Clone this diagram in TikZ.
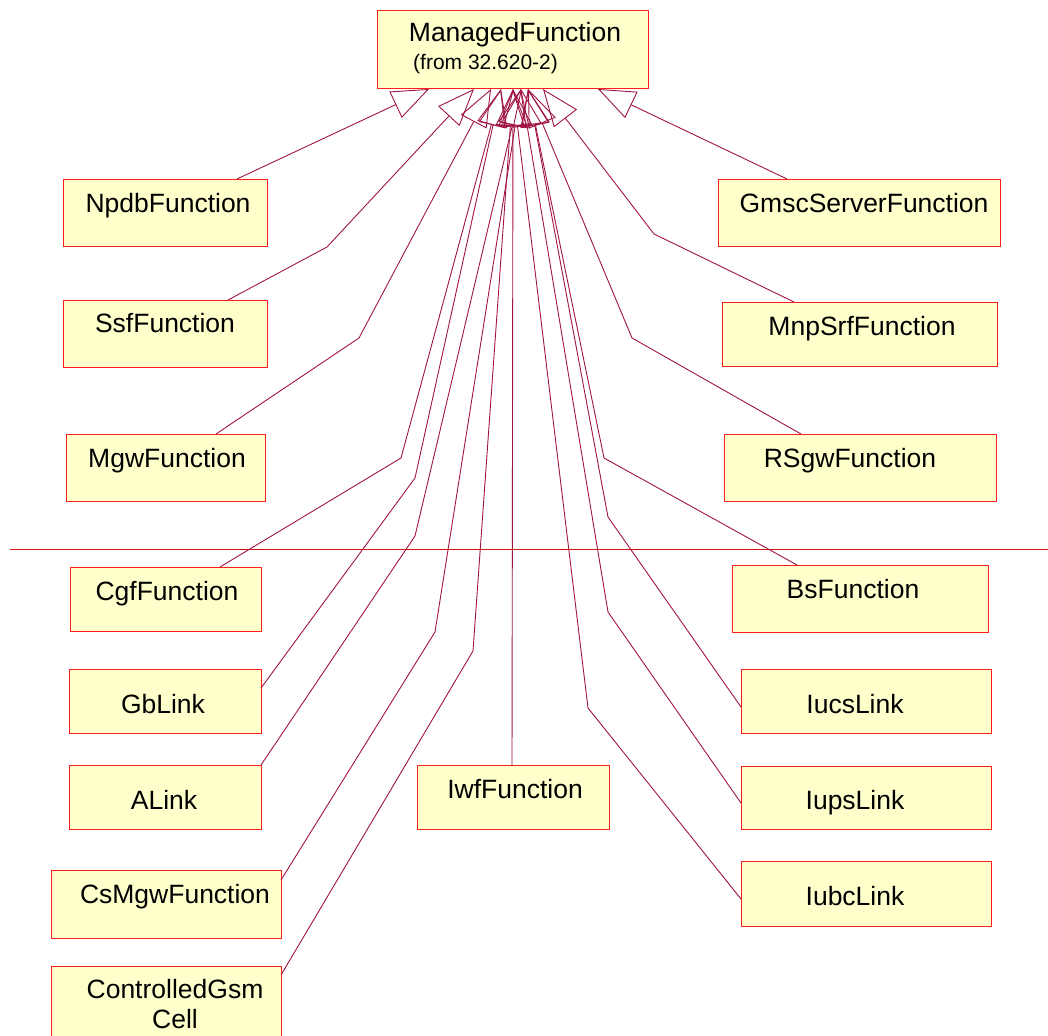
\documentclass[tikz,border=0pt]{standalone}
\usepackage{fontspec}
\setmainfont{Liberation Sans}
\usetikzlibrary{arrows.meta,calc}
\definecolor{boxfill}{RGB}{255,255,204}
\definecolor{boxline}{RGB}{255,30,30}
\definecolor{genline}{RGB}{160,20,70}
\definecolor{sepline}{RGB}{210,20,20}

% \umlclass{name}{left}{top}{right}{bottom}
\newcommand\umlclass[5]{%
  \node[classbox, minimum width={#4-#2}, minimum height={#5-#3}] (#1) at (#2,#3) {};}

\begin{document}
\begin{tikzpicture}[x=1pt,y=-1pt,
  classbox/.style={draw=boxline, fill=boxfill, line width=1pt, inner sep=0pt, outer sep=0pt, anchor=north west},
  cname/.style={anchor=base, inner sep=0pt, font=\fontsize{26.5}{31}\selectfont},
  cfrom/.style={anchor=base west, inner sep=0pt, font=\fontsize{21}{25}\selectfont},
  gen/.style={draw=genline, line width=0.9pt, line join=miter,
    -{Triangle[open, length=37pt, width=29pt]}}]
\useasboundingbox (0,0) rectangle (1048,1035);

% separator
\coordinate (sepL) at (10,549);
\coordinate (sepR) at (1048,549);
\draw[sepline, line width=0.9pt] (sepL) -- (sepR);

% classes
\umlclass{mf}{377}{11}{648}{89}
\umlclass{npdb}{63}{179}{267}{246}
\umlclass{ssf}{63}{300}{267}{367}
\umlclass{mgw}{66}{434}{265}{501}
\umlclass{cgf}{70}{567}{261}{631}
\umlclass{gb}{69}{669}{261}{733}
\umlclass{alink}{69}{765}{261}{829}
\umlclass{csmgw}{51}{870}{281}{938}
\umlclass{cgsm}{51}{966}{281}{1040}
\umlclass{iwf}{417}{765}{609}{829}
\umlclass{gmsc}{718}{179}{1000}{246}
\umlclass{mnp}{722}{302}{997}{366}
\umlclass{rsgw}{724}{434}{996}{501}
\umlclass{bs}{732}{565}{988}{632}
\umlclass{iucs}{741}{669}{991}{733}
\umlclass{iups}{741}{766}{991}{829}
\umlclass{iubc}{741}{861}{991}{926}

% class names
\node[cname] (mfT) at (515,42) {ManagedFunction};
\node[cfrom] (mfF) at (413,70) {(from 32.620-2)};
\node[cname] (npdbT) at (168,212) {NpdbFunction};
\node[cname] (ssfT) at (165,332) {SsfFunction};
\node[cname] (mgwT) at (167,467) {MgwFunction};
\node[cname] (cgfT) at (167,600) {CgfFunction};
\node[cname] (gbT) at (163,713) {GbLink};
\node[cname] (alinkT) at (164,809) {ALink};
\node[cname] (csmgwT) at (175,903) {CsMgwFunction};
\node[cname] (cgsmT) at (175,998) {ControlledGsm};
\node[cname] (cgsmT2) at (175,1028) {Cell};
\node[cname] (iwfT) at (515,798) {IwfFunction};
\node[cname] (gmscT) at (864,212) {GmscServerFunction};
\node[cname] (mnpT) at (862,335) {MnpSrfFunction};
\node[cname] (rsgwT) at (850,467) {RSgwFunction};
\node[cname] (bsT) at (853,598) {BsFunction};
\node[cname] (iucsT) at (855,713) {IucsLink};
\node[cname] (iupsT) at (855,809) {IupsLink};
\node[cname] (iubcT) at (855,905) {IubcLink};

% arrow tips on the bottom edge of ManagedFunction
\foreach \n/\x in {a/429, b/474, c/491, d/501, e/513, f/521, g/528, h/543, k/598}
  \coordinate (tip\n) at (mf.south -| \x,0);

% generalisations, left side
\draw[gen] (npdb.north -| 237,0) -- (tipa);
\draw[gen] (ssf.north -| 228,0) -- (327,247) -- (tipb);
\draw[gen] (mgw.north -| 216,0) -- (359,338) -- (tipc);
\draw[gen] (cgf.north -| 220,0) -- (401,458) -- (tipd);
\draw[gen] (gb.east |- 0,688) -- (415,478) -- (tipd);
\draw[gen] (alink.north east) -- (415,536) -- (tipf);
\draw[gen] (csmgw.east |- 0,880) -- (435,632) -- (tipf);
\draw[gen] (cgsm.east |- 0,975) -- (473,651) -- (tipe);
% centre
\draw[gen] (iwf.north -| 512,0) -- (tipe);
% right side
\draw[gen] (gmsc.north -| 787,0) -- (tipk);
\draw[gen] (mnp.north -| 794,0) -- (654,234) -- (tiph);
\draw[gen] (rsgw.north -| 801,0) -- (632,338) -- (tipg);
\draw[gen] (bs.north -| 797,0) -- (604,458) -- (tipg);
\draw[gen] (iucs.west |- 0,707) -- (608,517) -- (tipg);
\draw[gen] (iups.west |- 0,803) -- (608,612) -- (tipf);
\draw[gen] (iubc.west |- 0,899) -- (588,708) -- (tipe);
\end{tikzpicture}
\end{document}
